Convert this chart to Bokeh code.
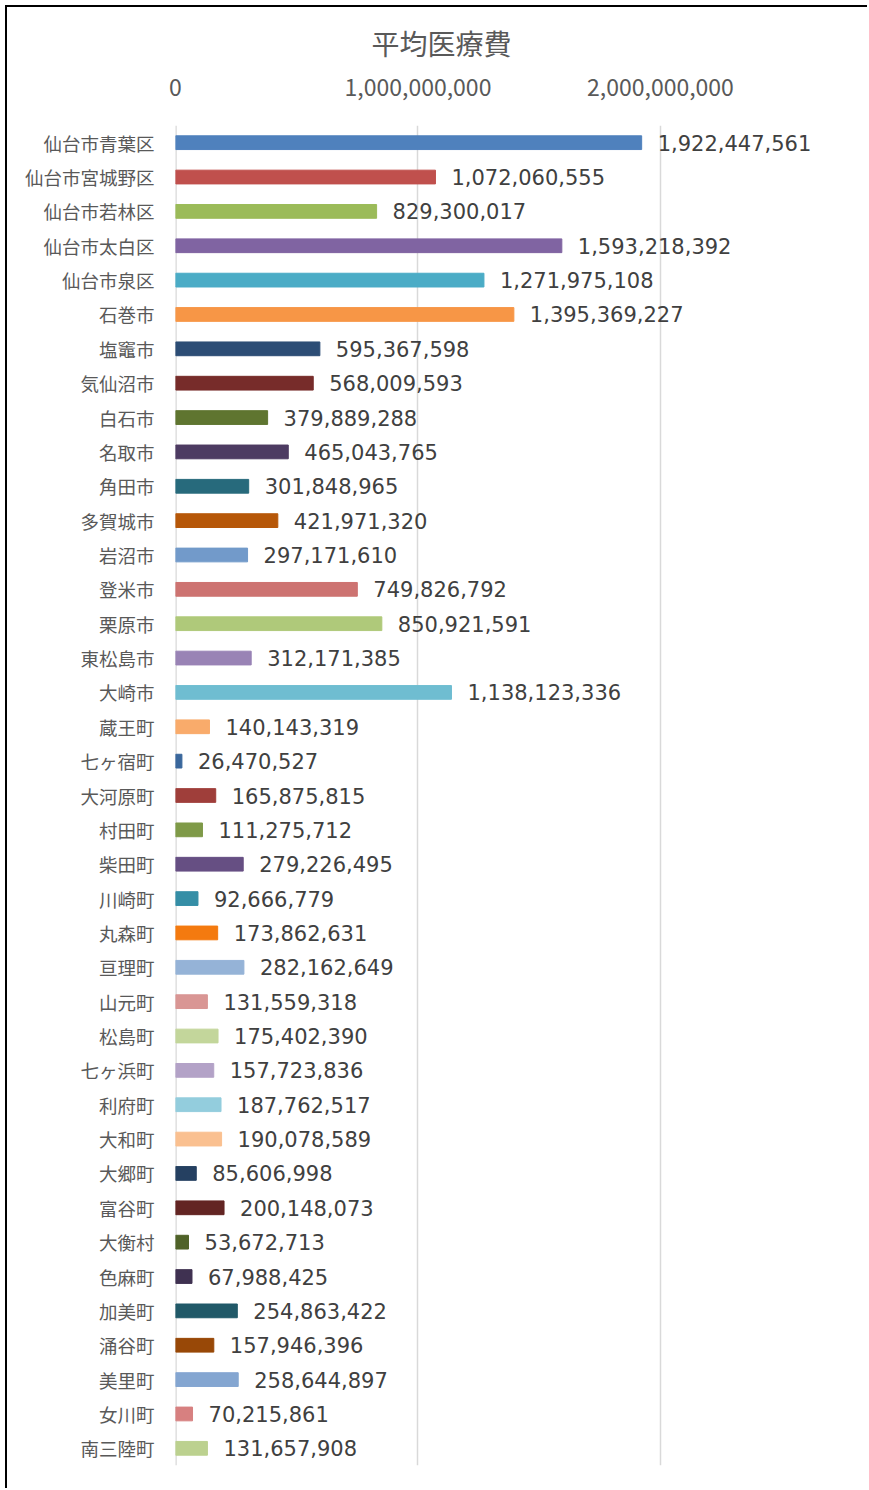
from bokeh.plotting import figure
from bokeh.models import Range1d, FactorRange, FixedTicker, NumeralTickFormatter, ColumnDataSource, LinearAxis, Span
from bokeh.embed import file_html
from bokeh.resources import INLINE
from bokeh.core.properties import value

categories = ["仙台市青葉区", "仙台市宮城野区", "仙台市若林区", "仙台市太白区", "仙台市泉区", "石巻市",
              "塩竈市", "気仙沼市", "白石市", "名取市", "角田市", "多賀城市", "岩沼市", "登米市",
              "栗原市", "東松島市", "大崎市", "蔵王町", "七ヶ宿町", "大河原町", "村田町", "柴田町",
              "川崎町", "丸森町", "亘理町", "山元町", "松島町", "七ヶ浜町", "利府町", "大和町",
              "大郷町", "富谷町", "大衡村", "色麻町", "加美町", "涌谷町", "美里町", "女川町", "南三陸町"]
values = [1922447561, 1072060555, 829300017, 1593218392, 1271975108, 1395369227,
          595367598, 568009593, 379889288, 465043765, 301848965, 421971320, 297171610, 749826792,
          850921591, 312171385, 1138123336, 140143319, 26470527, 165875815, 111275712, 279226495,
          92666779, 173862631, 282162649, 131559318, 175402390, 157723836, 187762517, 190078589,
          85606998, 200148073, 53672713, 67988425, 254863422, 157946396, 258644897, 70215861, 131657908]
colors = ["#4F81BD", "#C0504D", "#9BBB59", "#8064A2", "#4BACC6", "#F79646",
          "#2C4D75", "#772C2A", "#5F7530", "#4D3B62", "#276A7C", "#B65708",
          "#729ACA", "#CD7371", "#AFC97A", "#9983B5", "#6FBDD1", "#F9AB6B",
          "#3A679C", "#9F3E3A", "#7F9A48", "#664F83", "#358EA6", "#F47A0F",
          "#95B3D7", "#D99694", "#C3D69B", "#B3A2C7", "#93CDDD", "#FAC090",
          "#254061", "#632523", "#4F6228", "#3F3151", "#215968", "#984807",
          "#84A6D1", "#D78080", "#BCD18F"]
x_ticks = [0, 1000000000, 2000000000]
title_text = "平均医療費"

labels = [f"{v:,}" for v in values]
src = ColumnDataSource(dict(cat=categories, val=values, color=colors, label=labels))

p = figure(width=862, height=1483, output_backend="svg", toolbar_location=None,
           y_range=FactorRange(*reversed(categories), range_padding=0),
           x_range=Range1d(0, 2.862e9), x_axis_location=None,
           min_border_left=168, min_border_right=0, min_border_top=118, min_border_bottom=25)
p.styles = {"border-left": "2px solid #000", "border-top": "2px solid #000",
            "margin-left": "5px", "margin-top": "5px"}
p.outline_line_color = None

p.title.text = title_text
p.title.text_font = "Noto Sans CJK JP"
p.title.text_font_size = "28px"
p.title.text_font_style = "normal"
p.title.text_color = "#595959"
p.title.align = "left"
p.title.offset = 196
p.title.standoff = 25

xa = LinearAxis(ticker=FixedTicker(ticks=x_ticks), formatter=NumeralTickFormatter(format="0,0"))
xa.axis_line_color = None
xa.major_tick_line_color = None
xa.minor_tick_line_color = None
xa.major_label_text_font = "Noto Sans CJK JP"
xa.major_label_text_font_size = "23px"
xa.major_label_text_color = "#595959"
xa.major_label_standoff = 24
p.add_layout(xa, "above")

ya = p.yaxis[0]
ya.axis_line_color = None
ya.major_tick_line_color = None
ya.minor_tick_line_color = None
ya.major_label_text_font = "Noto Sans CJK JP"
ya.major_label_text_font_size = "18.5px"
ya.major_label_text_color = "#595959"
ya.major_label_standoff = 15

p.ygrid.grid_line_color = None
p.xgrid.ticker = FixedTicker(ticks=x_ticks)
p.xgrid.grid_line_color = "#D9D9D9"
p.xgrid.grid_line_width = 1.5
p.add_layout(Span(location=0, dimension="height", line_color="#D9D9D9", line_width=2.5, level="underlay"))

p.hbar(y="cat", right="val", left=0, height=0.4, color="color", source=src)
p.text(x="val", y="cat", text="label", source=src, x_offset=16, text_baseline="middle",
       text_align="left", text_font=value("DejaVu Sans"), text_font_size="21px", text_color="#404040")

open("out.html", "w").write(file_html(p, INLINE))
